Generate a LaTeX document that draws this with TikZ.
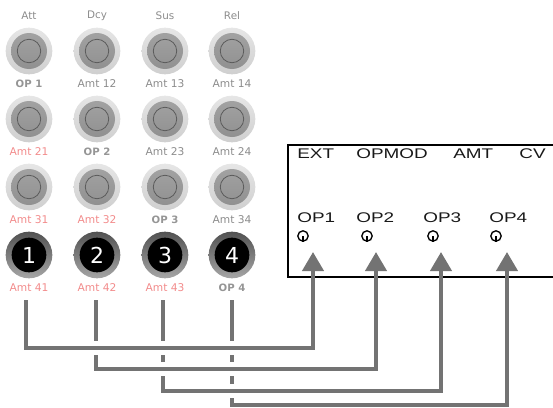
\documentclass[tikz,border=0pt]{standalone}
\usepackage{fontspec}
\setmainfont{DejaVu Sans}
\newfontfamily\boxfont{Liberation Sans}
\usetikzlibrary{arrows.meta}
\definecolor{lab}{HTML}{8C8C8C}
\definecolor{oplab}{HTML}{959595}
\definecolor{pinklab}{HTML}{F28B8B}
\definecolor{wirec}{HTML}{737373}
\definecolor{ringA}{HTML}{E6E6E6}
\definecolor{ringB}{HTML}{CFCFCF}
\definecolor{discA}{HTML}{A4A4A4}
\definecolor{discB}{HTML}{8E8E8E}
\definecolor{innerl}{HTML}{5A5A5A}
\begin{document}
\begin{tikzpicture}[x=0.75pt,y=-0.75pt,
  gknob/.style={circle,minimum size=35pt,inner sep=0pt,top color=ringA,bottom color=ringB,
    path picture={
      \shade[top color=discA,bottom color=discB] (path picture bounding box.center) circle[radius=13.5pt];
      \draw[innerl,line width=0.6pt] (path picture bounding box.center) circle[radius=8.8pt];}},
  bknob/.style={circle,minimum size=35pt,inner sep=0pt,top color=black!68,bottom color=black!35,
    text=white,font=\fontsize{16.5}{16.5}\selectfont,
    path picture={
      \fill[black] (path picture bounding box.center) circle[radius=13pt];}},
  lbl/.style={font=\fontsize{8}{9}\selectfont,inner sep=0pt},
  oplbl/.style={font=\bfseries\fontsize{7.6}{9}\selectfont,inner sep=0pt,text=oplab},
  toplbl/.style={font=\fontsize{7.8}{9}\selectfont,inner sep=0pt,text=lab},
  hdr/.style={font=\boxfont\fontsize{10.5}{11}\selectfont,xscale=1.35,inner sep=0pt,anchor=base west,text=black!90},
  jack/.style={draw,circle,minimum size=7.8pt,inner sep=0pt,line width=1pt},
  wire/.style={draw=wirec,line width=3pt,line join=miter},
  halo/.style={draw=white,line width=10.5pt},
  tipped/.style={-{Triangle[width=15.75pt,length=14.25pt]}}
]
\useasboundingbox (0,0) rectangle (553,407);

% top labels
\node[toplbl] (tAtt) at (29,16) {Att};
\node[toplbl] (tDcy) at (97,16) {Dcy};
\node[toplbl] (tSus) at (165,16) {Sus};
\node[toplbl] (tRel) at (232,16) {Rel};

% knobs
\foreach \c/\x in {1/29,2/97,3/165,4/232}{
  \foreach \r/\y in {1/51,2/119,3/187}{
    \node[gknob] (k\r\c) at (\x,\y) {};
  }
  \node[bknob] (k4\c) at (\x,255) {\c};
}

% knob labels
\node[oplbl] (l11) at (29,84) {OP 1};
\node[lbl,text=lab] (l12) at (97,84) {Amt 12};
\node[lbl,text=lab] (l13) at (165,84) {Amt 13};
\node[lbl,text=lab] (l14) at (232,84) {Amt 14};
\node[lbl,text=pinklab] (l21) at (29,152) {Amt 21};
\node[oplbl] (l22) at (97,152) {OP 2};
\node[lbl,text=lab] (l23) at (165,152) {Amt 23};
\node[lbl,text=lab] (l24) at (232,152) {Amt 24};
\node[lbl,text=pinklab] (l31) at (29,220) {Amt 31};
\node[lbl,text=pinklab] (l32) at (97,220) {Amt 32};
\node[oplbl] (l33) at (165,220) {OP 3};
\node[lbl,text=lab] (l34) at (232,220) {Amt 34};
\node[lbl,text=pinklab] (l41) at (29,288) {Amt 41};
\node[lbl,text=pinklab] (l42) at (97,288) {Amt 42};
\node[lbl,text=pinklab] (l43) at (165,288) {Amt 43};
\node[oplbl] (l44) at (232,288) {OP 4};

% module box
\coordinate (boxTR) at (556,145);
\coordinate (boxBL) at (288,277);
\draw[black,line width=0.8pt] (boxTR) -| (boxBL) -- (boxBL -| boxTR);
\node[hdr] (hExt) at (297,158) {EXT};
\node[hdr] (hOpm) at (356,158) {OPMOD};
\node[hdr] (hAmt) at (453,158) {AMT};
\node[hdr] (hCv) at (519,158) {CV};
\node[hdr] (o1) at (297,222) {OP1};
\node[hdr] (o2) at (356,222) {OP2};
\node[hdr] (o3) at (423,222) {OP3};
\node[hdr] (o4) at (489,222) {OP4};
\foreach \i/\x in {1/303,2/367,3/433,4/496}{
  \node[jack] (j\i) at (\x,236) {};
  \draw[line width=1pt] (j\i.center) -- (j\i.south);
}

% wire coordinates
\coordinate (w1) at (26,300);  \coordinate (b1) at (313,348); \coordinate (t1) at (313,252);
\coordinate (w2) at (96,300);  \coordinate (b2) at (376,369); \coordinate (t2) at (376,252);
\coordinate (w3) at (163,300); \coordinate (b3) at (441,391); \coordinate (t3) at (441,252);
\coordinate (w4) at (232,300); \coordinate (b4) at (507,405); \coordinate (t4) at (507,252);

% wires (drawn from back to front, with white gaps at crossings)
\path[wire,tipped] (w4) |- (b4) -- (t4);
\path[halo] (w3 |- b3) -- (b3);
\path[wire,tipped] (w3) |- (b3) -- (t3);
\path[halo] (w2 |- b2) -- (b2);
\path[wire,tipped] (w2) |- (b2) -- (t2);
\path[halo] (w1 |- b1) -- (b1);
\path[wire,tipped] (w1) |- (b1) -- (t1);
\end{tikzpicture}
\end{document}
